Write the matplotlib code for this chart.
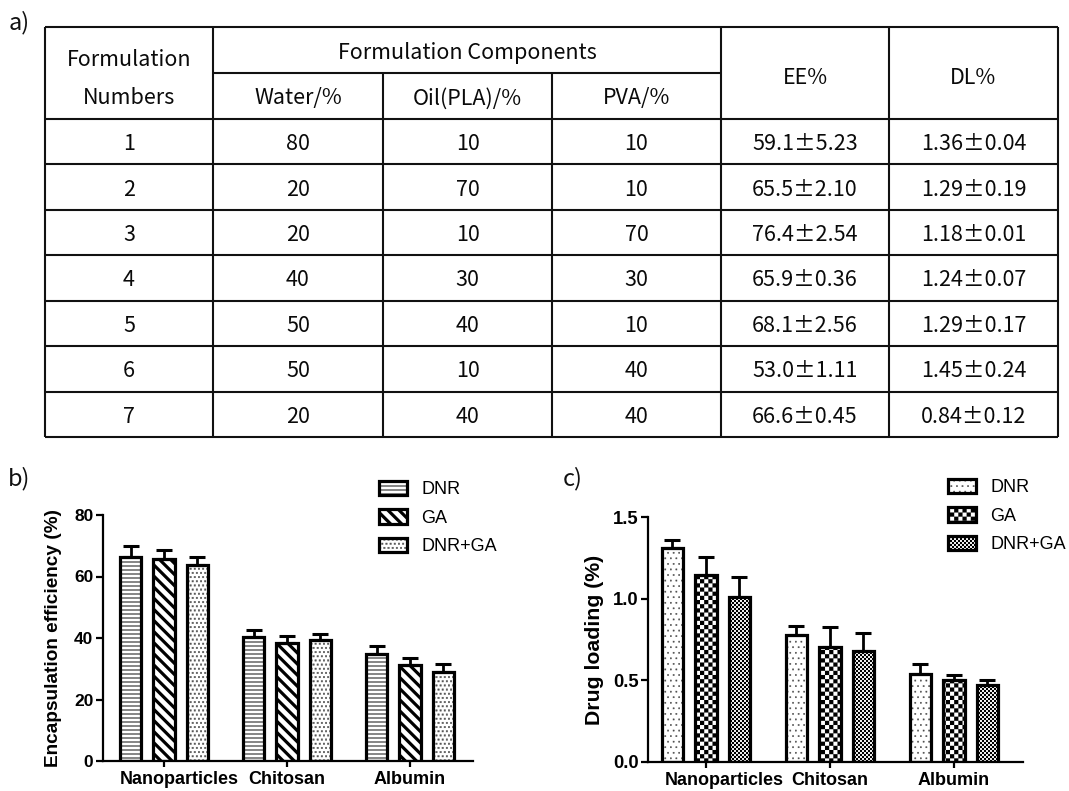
import warnings
warnings.filterwarnings("ignore")
import numpy as np
import matplotlib
matplotlib.use("Agg")
import matplotlib.pyplot as plt
from matplotlib import hatch as mhatch
from matplotlib.path import Path
from matplotlib.patches import Rectangle
from matplotlib.legend_handler import HandlerTuple
from matplotlib.transforms import ScaledTranslation

# ---------------- data ----------------
form_numbers = [1, 2, 3, 4, 5, 6, 7]
water_pct = [80, 20, 20, 40, 50, 50, 20]
oil_pct = [10, 70, 10, 30, 40, 10, 40]
pva_pct = [10, 10, 70, 30, 10, 40, 40]
ee_mean = [59.1, 65.5, 76.4, 65.9, 68.1, 53.0, 66.6]
ee_sd = [5.23, 2.10, 2.54, 0.36, 2.56, 1.11, 0.45]
dl_mean = [1.36, 1.29, 1.18, 1.24, 1.29, 1.45, 0.84]
dl_sd = [0.04, 0.19, 0.01, 0.07, 0.17, 0.24, 0.12]

header_first = ["Formulation", "Numbers"]
header_group = "Formulation Components"
header_sub = ["Water/%", "Oil(PLA)/%", "PVA/%"]
header_ee = "EE%"
header_dl = "DL%"

carriers = ["Nanoparticles", "Chitosan", "Albumin"]
series = ["DNR", "GA", "DNR+GA"]
ee_bar = {"DNR": [66.4, 40.2, 34.8], "GA": [65.6, 38.5, 31.2], "DNR+GA": [63.6, 39.2, 29.1]}
ee_err = {"DNR": [3.4, 2.5, 2.6], "GA": [3.1, 2.2, 2.2], "DNR+GA": [2.8, 2.1, 2.3]}
dl_bar = {"DNR": [1.31, 0.775, 0.541], "GA": [1.147, 0.705, 0.505], "DNR+GA": [1.01, 0.678, 0.47]}
dl_err = {"DNR": [0.05, 0.06, 0.06], "GA": [0.11, 0.12, 0.026], "DNR+GA": [0.12, 0.11, 0.031]}
ee_ticks = [0, 20, 40, 60, 80]
dl_ticks = [0.0, 0.5, 1.0, 1.5]

# ---------------- custom hatch patterns ----------------
HATCH_SPECS = {
    "h": ("hlines", 25, 0),
    "g": ("bdiag", 9, 0),
    "d": ("dots", 24, 0.36),
    "e": ("dots", 18, 0.22),
    "k": ("checker", 24, 0),
    "f": ("checker", 50, 0),
}


def _build(spec):
    kind, n, s = spec
    segs = []
    M, L, C = Path.MOVETO, Path.LINETO, Path.CLOSEPOLY
    if kind == "hlines":
        for i in range(n):
            y = (i + 0.5) / n
            segs.append(([(0, y), (1, y)], [M, L]))
    elif kind == "bdiag":
        for k in range(-1, 2 * n + 2):
            c = k / n
            segs.append(([(c - 1.5, 1.5), (1.5, c - 1.5)], [M, L]))
    elif kind == "dots":
        h = s / n / 2
        for i in range(n):
            for j in range(n):
                cx = (j + 0.5 * (i % 2) + 0.25) / n
                cy = (i + 0.5) / n
                segs.append(([(cx - h, cy - h), (cx + h, cy - h), (cx + h, cy + h),
                              (cx - h, cy + h), (cx - h, cy - h)], [M, L, L, L, C]))
    elif kind == "checker":
        q = 1.0 / n
        for i in range(n):
            for j in range(n):
                if (i + j) % 2 == 0:
                    x0, y0 = i * q, j * q
                    segs.append(([(x0, y0), (x0 + q, y0), (x0 + q, y0 + q),
                                  (x0, y0 + q), (x0, y0)], [M, L, L, L, C]))
    return segs


class CustomHatch(mhatch.HatchPatternBase):
    def __init__(self, hatch, density):
        self.segs = []
        for ch, spec in HATCH_SPECS.items():
            if ch in hatch:
                self.segs.extend(_build(spec))
        self.num_vertices = sum(len(v) for v, c in self.segs)

    def set_vertices_and_codes(self, vertices, codes):
        k = 0
        for v, c in self.segs:
            n = len(v)
            vertices[k:k + n] = v
            codes[k:k + n] = c
            k += n


mhatch._hatch_types.append(CustomHatch)

# ---------------- figure ----------------
W, H = 1069, 791
fig = plt.figure(figsize=(W / 100, H / 100), dpi=100)

TABLE_FONT = ["Noto Sans CJK SC", "DejaVu Sans"]
CHART_FONT = ["Liberation Sans", "DejaVu Sans"]

ov = fig.add_axes([0, 0, 1, 1])
ov.set_xlim(0, W)
ov.set_ylim(H, 0)
ov.axis("off")

# table geometry (layout)
col_edges = [45, 213, 383, 552, 721, 889, 1058]
t_top, t_sub, t_head, t_bot = 27, 73, 119, 437
n_rows = len(form_numbers)
row_h = (t_bot - t_head) / n_rows
lw_t = 1.5
ov.hlines([t_top, t_head] + [t_head + row_h * (i + 1) for i in range(n_rows)],
          col_edges[0], col_edges[-1], color="#111111", lw=lw_t)
ov.hlines(t_sub, col_edges[1], col_edges[4], color="#111111", lw=lw_t)
for i, xe in enumerate(col_edges):
    y0 = t_sub if i in (2, 3) else t_top
    ov.vlines(xe, y0, t_bot, color="#111111", lw=lw_t)

cx = [(col_edges[i] + col_edges[i + 1]) / 2 for i in range(6)]
tkw = dict(family=TABLE_FONT, fontsize=15.5, color="#0a0a0a", ha="center", va="center_baseline")
ov.text(cx[0], 57, header_first[0], **tkw)
ov.text(cx[0], 96, header_first[1], **tkw)
ov.text((col_edges[1] + col_edges[4]) / 2, 50, header_group, **tkw)
for j, lab in enumerate(header_sub):
    ov.text(cx[1 + j], 96, lab, **tkw)
ov.text(cx[4], 75, header_ee, **tkw)
ov.text(cx[5], 75, header_dl, **tkw)
for i in range(n_rows):
    yc = t_head + row_h * (i + 0.5)
    vals = [str(form_numbers[i]), str(water_pct[i]), str(oil_pct[i]), str(pva_pct[i]),
            f"{ee_mean[i]:.1f}\u00b1{ee_sd[i]:.2f}", f"{dl_mean[i]:.2f}\u00b1{dl_sd[i]:.2f}"]
    for j, v in enumerate(vals):
        ov.text(cx[j], yc, v, **tkw)

lkw = dict(family=TABLE_FONT, fontsize=17, color="#111111", ha="center", va="center_baseline")
ov.text(19, 20, "a)", **lkw)
ov.text(19, 476, "b)", **lkw)
ov.text(573, 476, "c)", **lkw)


def fr(x0, x1, ytop, ybot):
    return [x0 / W, 1 - ybot / H, (x1 - x0) / W, (ybot - ytop) / H]


def draw_panel(ax, values, errors, hatches, hcolors, hlws, yticks, ylim, ylabel,
               ylabsize, ytsize, xlim, leg_anchor, np_shift, ylab_x):
    x = np.arange(len(carriers))
    offsets = [-0.27, 0.0, 0.27]
    width = 0.172
    handles = []
    for k, s in enumerate(series):
        xs = x + offsets[k]
        with plt.rc_context({"hatch.linewidth": hlws[k]}):
            fill = ax.bar(xs, values[s], width=width, color="white", edgecolor=hcolors[k],
                          linewidth=0, hatch=hatches[k], zorder=2)
        for p in fill:
            if hasattr(p, "set_hatch_linewidth"):
                p.set_hatch_linewidth(hlws[k])
        edge = ax.bar(xs, values[s], width=width, facecolor="none", edgecolor="black",
                      linewidth=2.3, zorder=3)
        ax.errorbar(xs, values[s], yerr=[np.zeros(len(xs)), errors[s]], fmt="none",
                    ecolor="black", elinewidth=2.0, capsize=5.5, capthick=2.2, zorder=2.5)
        handles.append((fill[0], edge[0]))
    ax.set_xlim(*xlim)
    ax.set_ylim(*ylim)
    ax.set_xticks(x)
    ax.set_xticklabels(carriers, family=CHART_FONT, fontweight="bold", fontsize=13)
    ax.set_yticks(yticks)
    ax.set_yticklabels([f"{t:g}" if isinstance(t, int) else f"{t:.1f}" for t in yticks],
                       family=CHART_FONT, fontweight="bold", fontsize=ytsize)
    for sp in ("top", "right"):
        ax.spines[sp].set_visible(False)
    for sp in ("left", "bottom"):
        ax.spines[sp].set_linewidth(1.6)
    ax.tick_params(axis="y", length=5, width=1.6, pad=1.5)
    ax.tick_params(axis="x", length=4.5, width=1.6, pad=3)
    lab0 = ax.get_xticklabels()[0]
    lab0.set_transform(lab0.get_transform() + ScaledTranslation(np_shift / 100, 0, fig.dpi_scale_trans))
    ax.set_ylabel(ylabel, family=CHART_FONT, fontweight="bold", fontsize=ylabsize)
    ax.yaxis.set_label_coords(ylab_x, 0.5)
    leg = ax.legend(handles, series, handler_map={tuple: HandlerTuple(ndivide=1)},
                    loc="upper left", bbox_to_anchor=leg_anchor, bbox_transform=fig.transFigure,
                    frameon=False, borderpad=0, borderaxespad=0, handlelength=1.55,
                    handleheight=0.85, handletextpad=0.8, labelspacing=0.6,
                    prop={"family": CHART_FONT, "size": 13})
    lw_map = dict(zip(hatches, hlws))
    for p in leg.findobj(Rectangle):
        hp = p.get_hatch()
        if hp in lw_map and hasattr(p, "set_hatch_linewidth"):
            p.set_hatch_linewidth(lw_map[hp])


axb = fig.add_axes(fr(102.5, 472.7, 515, 761))
draw_panel(axb, ee_bar, ee_err, ["h", "g", "d"], ["#2a2a2a", "black", "#555555"],
           [0.8, 2.3, 0.3], ee_ticks, (0, 80), "Encapsulation efficiency (%)", 13.7, 12.5,
           (-0.5, 2.51), (379 / W, 1 - 481 / H), 15, -0.109)

axc = fig.add_axes(fr(647.7, 1023.4, 517, 762))
draw_panel(axc, dl_bar, dl_err, ["e", "k", "f"], ["#4a4a4a", "black", "black"],
           [0.3, 0.05, 0.05], dl_ticks, (0, 1.5), "Drug loading (%)", 15.3, 13.3,
           (-0.47, 2.56), (948 / W, 1 - 479 / H), 18, -0.116)

fig.savefig("out.png", dpi=100)
